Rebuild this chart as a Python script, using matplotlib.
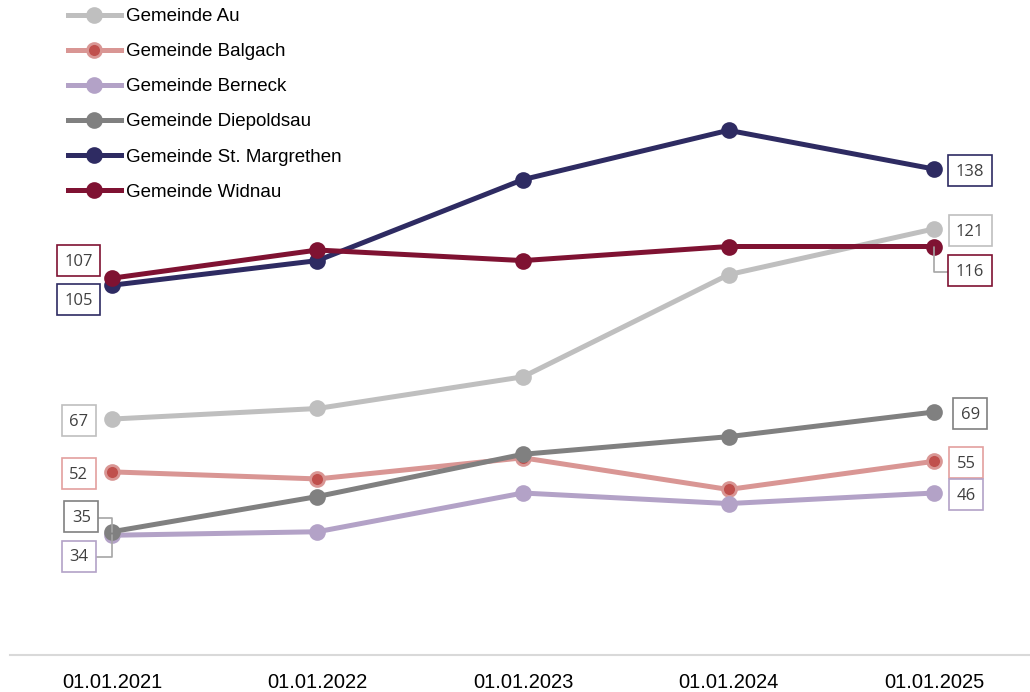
import matplotlib
matplotlib.use("Agg")
import matplotlib.pyplot as plt
from matplotlib.path import Path

plt.rcParams['font.family'] = ['Liberation Sans', 'DejaVu Sans']

dates = ["01.01.2021", "01.01.2022", "01.01.2023", "01.01.2024", "01.01.2025"]

au = [67, 70, 79, 108, 121]
balgach = [52, 50, 56, 47, 55]
berneck = [34, 35, 46, 43, 46]
diepoldsau = [35, 45, 57, 62, 69]
st_margrethen = [105, 112, 135, 149, 138]
widnau = [107, 115, 112, 116, 116]

names = ["Gemeinde Au", "Gemeinde Balgach", "Gemeinde Berneck",
         "Gemeinde Diepoldsau", "Gemeinde St. Margrethen", "Gemeinde Widnau"]
series = [au, balgach, berneck, diepoldsau, st_margrethen, widnau]
colors = ["#bfbfbf", "#d99694", "#b3a2c7", "#808080", "#2e2b62", "#7f1232"]
face = ["#bfbfbf", "#c0504d", "#b3a2c7", "#808080", "#2e2b62", "#7f1232"]

# label offsets in points (first, last) -- start / end value labels
first_off = [(-24, -2), (-24, -2), (-24, -16), (-22, 10), (-24, -11), (-24, 12)]
last_off = [(26, -2), (23, -2), (23, -2), (26, -2), (26, -2), (26, -18)]
leader_first = [False, False, True, True, False, False]
leader_last = [False, False, False, False, False, True]


def label_box(x0, y0, width, height, mutation_size):
    # square box, shifted up a little so the digits sit centred
    pad = 0.45 * mutation_size
    dy = 0.08 * mutation_size
    x1, y1 = x0 - pad, y0 - pad + dy
    x2, y2 = x0 + width + pad, y0 + height + pad + dy
    return Path([(x1, y1), (x2, y1), (x2, y2), (x1, y2), (x1, y1)],
                closed=True)


fig = plt.figure(figsize=(10.3, 6.92), dpi=100)
ax = fig.add_axes([10 / 1030, 37 / 692, 1 - 10 / 1030, 1 - 37 / 692])

x = list(range(len(dates)))
for i, (name, vals) in enumerate(zip(names, series)):
    ax.plot(x, vals, color=colors[i], lw=3.6, marker='o', ms=10,
            mfc=face[i], mec=colors[i], mew=2, label=name, zorder=3 + i)

    for idx, off, lead in [(0, first_off[i], leader_first[i]),
                           (len(x) - 1, last_off[i], leader_last[i])]:
        kw = {}
        if lead:
            kw['arrowprops'] = dict(arrowstyle='-', color='#a6a6a6', lw=1.2,
                                    shrinkA=0, shrinkB=0,
                                    connectionstyle='angle,angleA=0,angleB=90,rad=0')
        ax.annotate(str(vals[idx]), xy=(x[idx], vals[idx]), xytext=off,
                    textcoords='offset points', ha='center', va='center',
                    fontsize=12, color='#404040', family='Open Sans',
                    bbox=dict(boxstyle=label_box, fc='white',
                              ec=colors[i] if i != 1 else '#e3a09e', lw=1.2),
                    zorder=20, **kw)

ax.set_xlim(-0.496, 4.467)
ax.set_ylim(0, 186)
ax.set_xticks(x)
ax.set_xticklabels(dates, fontsize=14.5)
ax.set_yticks([])
ax.tick_params(axis='x', length=0, pad=13)
for s in ['top', 'right', 'left']:
    ax.spines[s].set_visible(False)
ax.spines['bottom'].set_color('#d9d9d9')
ax.spines['bottom'].set_linewidth(1.5)

ax.legend(loc='upper left', bbox_to_anchor=(68 / 1030, 1 - 8 / 692),
          bbox_transform=fig.transFigure, frameon=False, fontsize=13.5,
          borderpad=0, borderaxespad=0, handlelength=2.8, handletextpad=0.3,
          labelspacing=0.96)

fig.savefig("out.png", dpi=100)
